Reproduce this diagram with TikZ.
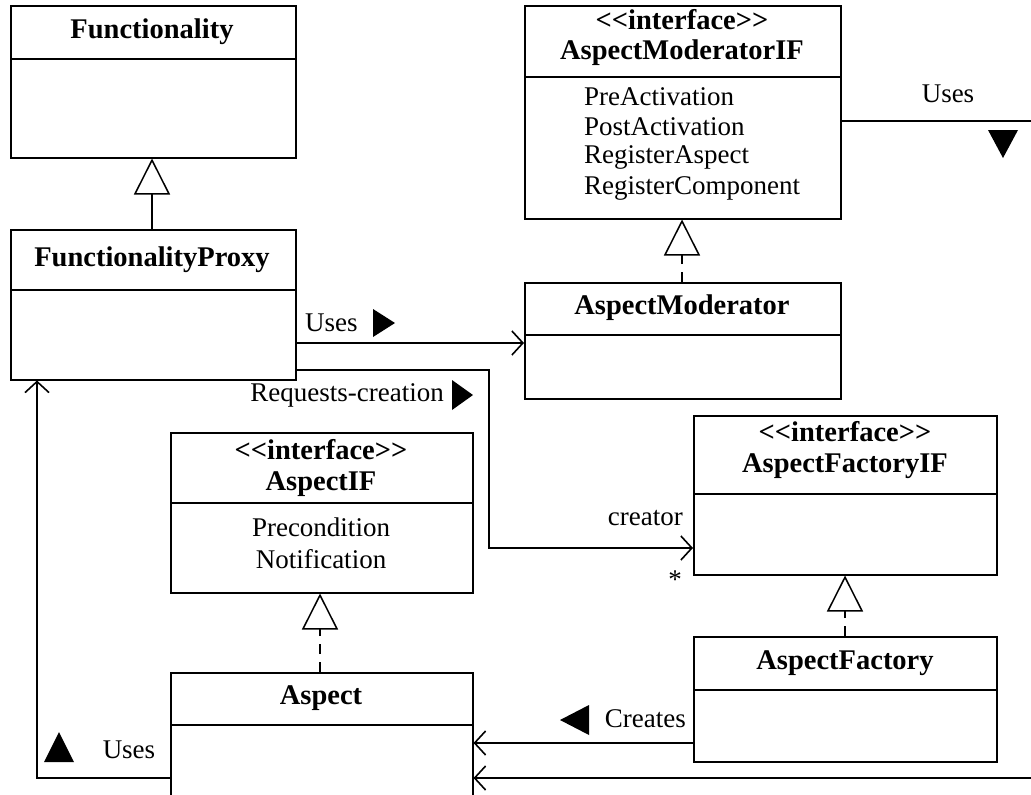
\documentclass[tikz,border=0pt]{standalone}
\usepackage{fontspec}
\setmainfont{Liberation Serif}
\usetikzlibrary{arrows.meta}
\begin{document}
\begin{tikzpicture}[x=1pt,y=-1pt,
  cls/.style={draw, line width=1.5pt, inner sep=0pt, anchor=north west},
  hd/.style={font=\fontsize{28.5}{32}\selectfont\bfseries, inner sep=0pt},
  op/.style={font=\fontsize{27}{30}\selectfont, inner sep=0pt},
  conn/.style={line width=2.6pt},
  openarr/.style={-{Straight Barb[length=11pt,width=24pt,line width=1.6pt]}},
  inh/.style={line width=2.6pt,-{Triangle[open,length=36pt,width=36pt,line width=1.5pt,fill=white]}},
  real/.style={line width=2pt,dash pattern=on 10pt off 8pt,-{Triangle[open,length=36pt,width=36pt,line width=1.5pt,fill=white]}},
  dirtri/.style={fill=black}
]
\useasboundingbox (0,0) rectangle (1031,795);
\clip (0,0) rectangle (1031,795);
% ---- classes ----
\node[cls, minimum width=285pt, minimum height=152pt] (fun) at (10,5) {};
\draw[line width=1.2pt] (10,59) -- (295,59);
\node[hd] (funT) at (152,32) {Functionality};

\node[cls, minimum width=285pt, minimum height=150pt] (fp) at (10,229) {};
\draw[line width=1.2pt] (10,290) -- (295,290);
\node[hd] (fpT) at (152,260) {FunctionalityProxy};

\node[cls, minimum width=316pt, minimum height=213pt] (amif) at (524,5) {};
\draw[line width=1.2pt] (524,77) -- (840,77);
\node[hd] (amifS) at (682,20) {<{}<interface>{}>};
\node[hd] (amifT) at (682,53) {AspectModeratorIF};
\node[op, anchor=west] (o1) at (584,97) {PreActivation};
\node[op, anchor=west] (o2) at (584,127) {PostActivation};
\node[op, anchor=west] (o3) at (584,157) {RegisterAspect};
\node[op, anchor=west] (o4) at (584,188) {RegisterComponent};

\node[cls, minimum width=316pt, minimum height=116pt] (am) at (524,282) {};
\draw[line width=1.2pt] (524,335) -- (840,335);
\node[hd] (amT) at (682,308) {AspectModerator};

\node[cls, minimum width=303pt, minimum height=159pt] (afif) at (693,415) {};
\draw[line width=1.2pt] (693,494) -- (996,494);
\node[hd] (afifS) at (845,432) {<{}<interface>{}>};
\node[hd] (afifT) at (845,466) {AspectFactoryIF};

\node[cls, minimum width=303pt, minimum height=125pt] (af) at (693,636) {};
\draw[line width=1.2pt] (693,690) -- (996,690);
\node[hd] (afT) at (845,663) {AspectFactory};

\node[cls, minimum width=302pt, minimum height=160pt] (aif) at (170,432) {};
\draw[line width=1.2pt] (170,503) -- (472,503);
\node[hd] (aifS) at (321,450) {<{}<interface>{}>};
\node[hd] (aifT) at (321,484) {AspectIF};
\node[op] (p1) at (321,527) {Precondition};
\node[op] (p2) at (321,559) {Notification};

\node[cls, minimum width=302pt, minimum height=150pt] (asp) at (170,672) {};
\draw[line width=1.2pt] (170,725) -- (472,725);
\node[hd] (aspT) at (321,698) {Aspect};

% ---- coordinates ----
\coordinate (rq1) at (489,370);
\coordinate (rq2) at (489,548);
\coordinate (amifR) at (1035,121);
\coordinate (botR) at (1035,778);
\coordinate (lft) at (37,778);

% ---- connectors ----
\draw[inh] (fp.north -| 152,0) -- (fun.south -| 152,0);
\draw[real] (am.north -| 682,0) -- (amif.south -| 682,0);
\draw[real] (af.north -| 845,0) -- (afif.south -| 845,0);
\draw[real] (asp.north -| 320,0) -- (aif.south -| 320,0);

\draw[conn,openarr] (fp.east |- 0,343) -- (am.west |- 0,343);
\draw[conn,openarr] (fp.east |- rq1) -- (rq1) -- (rq2) -- (afif.west |- rq2);
\draw[conn] (amif.east |- amifR) -- (amifR);
\draw[conn,openarr] (af.west |- 0,743) -- (asp.east |- 0,743);
\draw[conn,openarr] (botR) -- (asp.east |- botR);
\draw[conn,openarr] (asp.west |- lft) -- (lft) -- (fp.south -| lft);

% ---- labels ----
\node[op, anchor=west] (l1) at (305,323) {Uses};
\fill[dirtri] (373,309) -- (395,323) -- (373,337) -- cycle;
\node[op, anchor=east] (l2) at (444,395) {Requests-creation};
\fill[dirtri] (452,380) -- (473,395) -- (452,410) -- cycle;
\node[op, anchor=east] (l3) at (683,518) {creator};
\node[op] (l4) at (675,580) {*};
\node[op] (l5) at (948,94) {Uses};
\fill[dirtri] (988,130) -- (1018,130) -- (1003,158) -- cycle;
\node[op, anchor=east] (l6) at (686,719) {Creates};
\fill[dirtri] (589,705) -- (560,720) -- (589,735) -- cycle;
\node[op] (l7) at (129,750) {Uses};
\fill[dirtri] (44,762) -- (59,732) -- (74,762) -- cycle;
\end{tikzpicture}
\end{document}
